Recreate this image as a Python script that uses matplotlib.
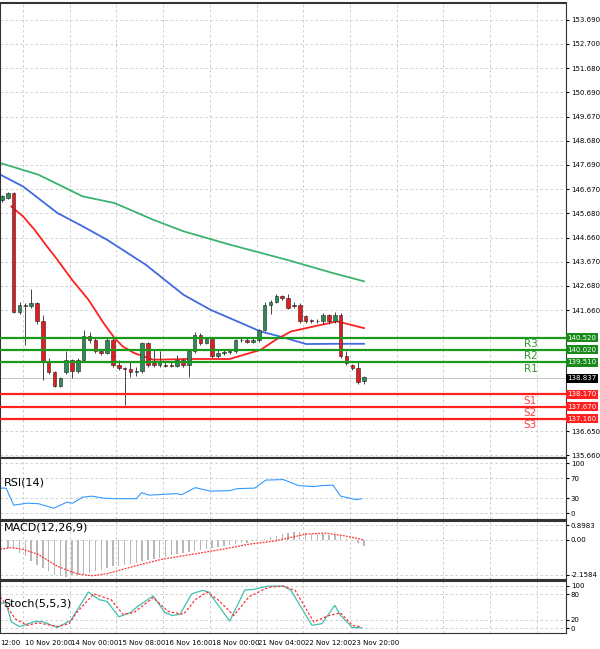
import matplotlib
matplotlib.use("Agg")
import matplotlib.pyplot as plt
import numpy as np

opens  = [146.24,146.31,146.52,141.59,141.89,141.82,141.96,141.20,139.54,139.09,138.53,139.09,139.61,139.13,139.61,140.58,140.44,139.96,139.89,140.44,139.40,139.27,139.22,139.09,139.13,140.30,139.47,139.40,139.40,139.40,139.36,139.61,139.40,139.96,140.65,140.30,140.47,139.75,139.89,139.91,139.96,140.41,140.44,140.33,140.41,140.85,141.89,142.00,142.24,142.17,141.89,141.89,141.41,141.27,141.23,141.20,141.45,141.20,141.48,139.75,139.40,139.27,138.71]
closes = [146.38,146.52,141.59,141.89,141.82,141.96,141.20,139.54,139.09,138.53,138.85,139.61,139.13,139.61,140.58,140.44,139.96,139.89,140.44,139.40,139.27,139.22,139.09,139.13,140.30,139.40,139.40,139.50,139.36,139.36,139.61,139.40,139.96,140.65,140.30,140.47,139.75,139.89,139.91,139.96,140.41,140.44,140.33,140.41,140.85,141.89,142.00,142.24,142.17,141.75,141.82,141.20,141.20,141.20,141.20,141.45,141.20,141.48,139.75,139.47,139.27,138.67,138.89]
highs  = [146.45,146.55,146.55,142.00,141.95,142.54,142.00,141.48,139.70,139.15,138.90,139.96,139.65,139.70,140.85,140.75,140.50,140.00,140.50,140.50,139.60,139.30,139.50,139.30,140.35,140.35,140.00,139.96,139.50,139.50,139.80,139.70,140.00,140.75,140.70,140.55,140.55,140.00,140.00,140.05,140.45,140.55,140.50,140.50,140.90,142.00,142.10,142.35,142.30,142.35,142.00,141.95,141.45,141.30,141.28,141.55,141.50,141.60,141.55,139.96,139.45,139.50,138.95]
lows   = [146.15,146.25,141.55,141.50,140.23,141.75,141.10,138.78,139.00,138.50,138.50,139.00,138.84,139.05,139.50,140.30,139.90,139.80,139.85,139.30,139.20,137.75,138.90,138.95,139.05,139.30,139.30,139.30,139.30,139.30,139.30,139.30,138.90,139.90,140.20,140.25,139.70,139.70,139.80,139.85,139.90,140.35,140.30,140.30,140.35,140.80,141.50,141.95,142.10,141.70,141.75,141.15,141.15,141.15,141.15,141.10,141.10,141.15,139.70,139.40,139.20,138.60,138.62]

ma_slow_x = [-0.3,6.2,13.8,19.3,25.9,31.1,39,48.8,56.7,62]
ma_slow_y = [147.76,147.28,146.38,146.10,145.41,144.93,144.38,143.75,143.20,142.86]
ma_mid_x = [-0.3,3.6,9.5,13.8,18,24.6,31.1,35.7,40.3,44.3,47.5,52.1,57.4,62]
ma_mid_y = [147.28,146.79,145.69,145.14,144.58,143.55,142.30,141.68,141.20,140.78,140.58,140.26,140.27,140.27]
ma_fast_x = [1.6,3.6,5.6,7.5,9.5,12,14.8,17.4,19.3,20.7,22.6,25.9,31.8,39,44.3,46.9,49.5,52.1,57.4,62]
ma_fast_y = [145.96,145.55,144.99,144.37,143.75,142.92,142.10,141.13,140.50,140.16,139.89,139.61,139.64,139.64,140.02,140.44,140.78,140.92,141.20,140.92]

res_levels = [140.52,140.02,139.51]
res_names = ["R3","R2","R1"]
sup_levels = [138.17,137.67,137.16]
sup_names = ["S1","S2","S3"]
last_price = 138.837
price_ticks = [153.690,152.700,151.680,150.690,149.670,148.680,147.690,146.670,145.680,144.660,143.670,142.680,141.660,136.650,135.660]

rsi_x = [-0.3,0.7,2,4.3,6.2,8.9,11.1,12.1,13.8,15.4,17.4,19.3,23,23.9,25.2,29.8,30.8,33.1,35.7,39,40.3,43.3,45.2,48.2,50.8,53.4,54.8,56.7,58,60.7,61.6]
rsi_y = [50,50,16,20,19,10,22,20,32,34,30,29,29,41,36,39,37,51,44,45,49,50,66,67,55,53,55,56,34,27,29]

macd_hist = [0,-0.48,-0.59,-0.8,-1.0,-1.32,-1.53,-1.74,-1.95,-2.16,-2.27,-2.3,-2.2,-2.16,-2.1,-2.06,-1.95,-1.85,-1.74,-1.64,-1.6,-1.55,-1.51,-1.43,-1.32,-1.26,-1.18,-1.11,-1.05,-0.97,-0.9,-0.84,-0.76,-0.69,-0.63,-0.59,-0.53,-0.46,-0.4,-0.34,-0.27,-0.21,-0.17,-0.08,0,0.08,0.17,0.25,0.36,0.42,0.46,0.46,0.42,0.38,0.36,0.36,0.32,0.29,0.21,0.08,-0.02,-0.17,-0.38]
macd_sig_x = [-0.3,1.6,3.6,6.2,9.5,12.8,15.4,18,22.6,27.2,32.5,37.7,42.3,46.9,49.5,52.1,55.4,58.7,62]
macd_sig_y = [-0.59,-0.48,-0.59,-0.9,-1.64,-2.1,-2.23,-2.1,-1.64,-1.22,-0.9,-0.59,-0.27,-0.06,0.15,0.36,0.42,0.25,0]

st_k_x = [-0.3,0.7,1.6,3,5.6,6.9,9.5,11.8,14.8,16.7,18,20,22,23.3,25.9,27.9,29.2,30.5,32.5,34.4,35.4,39,41.6,43,45.6,48.2,49.5,53.1,54.8,57,58,60,61.6]
st_k_y = [59,59,15,4,16,16,2,19,85,67,63,27,37,52,76,37,30,33,81,89,85,17,90,91,99,99,89,7,11,54,30,2,1]
st_d_x = [-0.3,2.3,4.3,6.2,9.5,11.5,12.8,15.7,18.7,20.7,22.6,25.9,28.5,31.1,33.1,35.1,37,39.7,42.3,45.6,48.2,50.2,53.4,56,58,60,61.6]
st_d_y = [74,22,7,13,4,11,37,81,67,33,37,72,39,33,67,85,67,30,74,96,99,89,15,30,36,7,3]

date_labels = ["12:00","10 Nov 20:00","14 Nov 00:00","15 Nov 08:00","16 Nov 16:00","18 Nov 00:00","21 Nov 04:00","22 Nov 12:00","23 Nov 20:00"]

W, H = 600, 649
fig = plt.figure(figsize=(6, 6.49), dpi=100)
XL = (-0.34, 96.6)
def ax_at(top, bot):
    return fig.add_axes([0, (H-bot)/H, 566/W, (bot-top)/H])
ax = ax_at(3, 457)
ar = ax_at(458, 519)
am = ax_at(521, 579)
ast = ax_at(581, 633)
grid_x = [3.6 + 8*k for k in range(12)]
for a in (ax, ar, am, ast):
    a.set_xlim(*XL)
    a.set_xticks(grid_x)
    a.tick_params(axis='x', length=0, labelbottom=False)
    a.yaxis.tick_right()
    a.tick_params(axis='y', labelsize=5, length=2, pad=1.5)
    a.grid(True, color='#c8c8c8', ls=(0, (3, 3)), lw=0.6)
    for s in a.spines.values():
        s.set_color('#333333'); s.set_linewidth(0.8)
    a.spines['top'].set_linewidth(1.5)

idx = np.arange(len(opens))
for i in idx:
    o, c = opens[i], closes[i]
    col = '#2e8b57' if c >= o else '#e41a1c'
    ax.vlines(i, lows[i], highs[i], color='#444444', lw=0.7, zorder=3)
    ax.bar(i, abs(c-o) if abs(c-o) > 0.03 else 0.03, bottom=min(o, c), width=0.6,
           color=col, edgecolor='#222222', lw=0.4, zorder=4)
ax.plot(ma_slow_x, ma_slow_y, color='#3cb371', lw=1.3, zorder=2)
ax.plot(ma_mid_x, ma_mid_y, color='#4169e1', lw=1.3, zorder=2)
ax.plot(ma_fast_x, ma_fast_y, color='#ff2020', lw=1.3, zorder=2)
ax.set_ylim(135.58, 154.39)
ax.set_yticks(price_ticks)
ax.set_yticklabels([f"{t:.3f}" for t in price_ticks])
ax.axhline(last_price, color='#bbbbbb', lw=0.6)
ax.text(1.003, last_price, f"{last_price:.3f}", transform=ax.get_yaxis_transform(), fontsize=5,
        color='white', va='center', ha='left', bbox=dict(fc='black', ec='none', pad=1))
for lv, nm in zip(res_levels, res_names):
    ax.axhline(lv, color='#1a9a1a', lw=1.6, zorder=5)
    ax.text(1.003, lv, f"{lv:.3f}", transform=ax.get_yaxis_transform(), fontsize=5, color='white',
            va='center', ha='left', bbox=dict(fc='#1a8a1a', ec='none', pad=1), zorder=6)
    ax.text(90.5, lv - 0.27, nm, fontsize=7.5, color='#2e9a2e', ha='center', va='center')
for lv, nm in zip(sup_levels, sup_names):
    ax.axhline(lv, color='#ff2020', lw=1.6, zorder=5)
    ax.text(1.003, lv, f"{lv:.3f}", transform=ax.get_yaxis_transform(), fontsize=5, color='white',
            va='center', ha='left', bbox=dict(fc='#ff2020', ec='none', pad=1), zorder=6)
    ax.text(90.5, lv - 0.27, nm, fontsize=7.5, color='#ff4040', ha='center', va='center')

ar.plot(rsi_x, rsi_y, color='#3399ff', lw=0.8)
ar.set_ylim(-11.5, 110)
ar.set_yticks([0, 30, 70, 100])
ar.text(0.3, 55, "RSI(14)", fontsize=8)

am.bar(idx, macd_hist, width=0.25, color='#b8b8b8')
am.plot(macd_sig_x, macd_sig_y, color='#ff3030', ls=(0, (1.5, 1)), lw=0.9)
am.set_ylim(-2.43, 1.17)
am.set_yticks([-2.1584, 0.0, 0.8983])
am.set_yticklabels(["-2.1584", "0.00", "0.8983"])
am.text(0.3, 0.55, "MACD(12,26,9)", fontsize=8)

ast.plot(st_k_x, st_k_y, color='#40c0b0', lw=0.9)
ast.plot(st_d_x, st_d_y, color='#ff3030', ls=(0, (2, 1.5)), lw=0.9)
ast.set_ylim(-11, 111)
ast.set_yticks([0, 20, 80, 100])
ast.text(0.3, 52, "Stoch(5,5,3)", fontsize=8)

label_x = [-0.34] + grid_x[0:8]
for lx, lab in zip(label_x, date_labels):
    ast.text(lx + (0 if lab == "12:00" else 0.3), -0.14, lab, transform=ast.get_xaxis_transform(),
             fontsize=5, ha='left', va='top')
fig.savefig("out.png", dpi=100)
